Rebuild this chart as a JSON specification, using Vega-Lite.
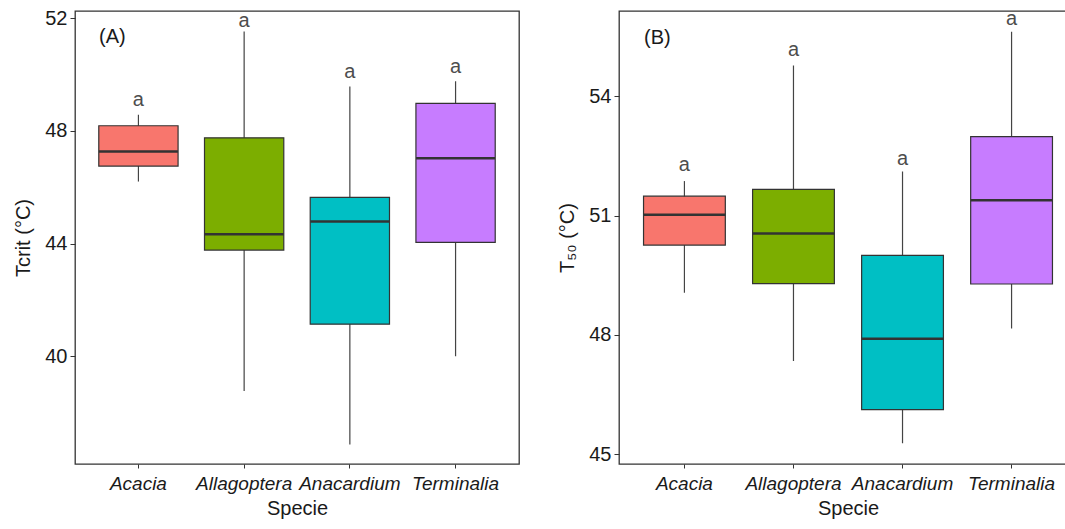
{
  "$schema": "https://vega.github.io/schema/vega-lite/v6.json",
  "padding": {"left": 13, "top": 7, "right": 0, "bottom": 0},
  "background": "white",
  "spacing": 37,
  "config": {
    "font": "Liberation Sans",
    "view": {"stroke": "#333333", "strokeWidth": 1.3},
    "axis": {"grid": false, "domain": false, "tickColor": "#333333", "labelColor": "#1a1a1a", "titleColor": "#1a1a1a", "labelFont": "Liberation Sans", "titleFont": "Liberation Sans", "labelFontSize": 20, "titleFontSize": 20, "titleFontWeight": "normal"},
    "axisX": {"tickSize": 4, "labelPadding": 6, "labelAngle": 0, "labelFontStyle": "italic", "labelFontSize": 19, "titlePadding": 5},
    "axisY": {"tickSize": 5, "labelPadding": 3, "titlePadding": 11}
  },
  "datasets": {
    "A": [
      {"Specie": "Acacia", "lower": 46.2, "q1": 46.75, "median": 47.27, "q3": 48.18, "upper": 48.57, "sig": "a", "sig_y": 48.88},
      {"Specie": "Allagoptera", "lower": 38.77, "q1": 43.77, "median": 44.33, "q3": 47.75, "upper": 51.52, "sig": "a", "sig_y": 51.69},
      {"Specie": "Anacardium", "lower": 36.87, "q1": 41.14, "median": 44.78, "q3": 45.64, "upper": 49.57, "sig": "a", "sig_y": 49.89},
      {"Specie": "Terminalia", "lower": 40.0, "q1": 44.04, "median": 47.03, "q3": 48.97, "upper": 49.76, "sig": "a", "sig_y": 50.04}
    ],
    "B": [
      {"Specie": "Acacia", "lower": 49.06, "q1": 50.26, "median": 51.02, "q3": 51.49, "upper": 51.87, "sig": "a", "sig_y": 52.12},
      {"Specie": "Allagoptera", "lower": 47.34, "q1": 49.29, "median": 50.55, "q3": 51.66, "upper": 54.78, "sig": "a", "sig_y": 55.03},
      {"Specie": "Anacardium", "lower": 45.27, "q1": 46.12, "median": 47.9, "q3": 50.0, "upper": 52.11, "sig": "a", "sig_y": 52.28},
      {"Specie": "Terminalia", "lower": 48.16, "q1": 49.28, "median": 51.39, "q3": 52.99, "upper": 55.63, "sig": "a", "sig_y": 55.79}
    ],
    "panelA": [{"Specie": "Acacia", "y": 51.1, "label": "(A)"}],
    "panelB": [{"Specie": "Acacia", "y": 55.33, "label": "(B)"}]
  },
  "hconcat": [
    {
      "width": 444,
      "height": 453,
      "data": {"name": "A"},
      "encoding": {
        "x": {"field": "Specie", "type": "nominal", "scale": {"paddingInner": 0, "paddingOuter": 0.1}, "axis": {"title": "Specie"}}
      },
      "layer": [
        {
          "mark": {"type": "rule", "color": "#444444", "strokeWidth": 1.2},
          "encoding": {
            "y": {"field": "lower", "type": "quantitative", "scale": {"domain": [36.18, 52.25], "nice": false, "zero": false}, "axis": {"title": "Tcrit (°C)", "values": [40, 44, 48, 52]}},
            "y2": {"field": "upper"}
          }
        },
        {
          "mark": {"type": "bar", "width": {"band": 0.75}, "stroke": "#333333", "strokeWidth": 1.2},
          "encoding": {
            "y": {"field": "q1", "type": "quantitative"},
            "y2": {"field": "q3"},
            "color": {"field": "Specie", "type": "nominal", "scale": {"domain": ["Acacia", "Allagoptera", "Anacardium", "Terminalia"], "range": ["#F8766D", "#7CAE00", "#00BFC4", "#C77CFF"]}, "legend": null}
          }
        },
        {
          "mark": {"type": "tick", "color": "#333333", "thickness": 2.5, "size": 79, "opacity": 1},
          "encoding": {"y": {"field": "median", "type": "quantitative"}}
        },
        {
          "mark": {"type": "text", "baseline": "alphabetic", "fontSize": 20, "color": "#4d4d4d", "font": "Liberation Sans"},
          "encoding": {"y": {"field": "sig_y", "type": "quantitative"}, "text": {"field": "sig"}}
        },
        {
          "data": {"name": "panelA"},
          "mark": {"type": "text", "baseline": "alphabetic", "fontSize": 20, "dx": -26, "color": "#1a1a1a"},
          "encoding": {"y": {"field": "y", "type": "quantitative"}, "text": {"field": "label"}}
        }
      ]
    },
    {
      "width": 458,
      "height": 453,
      "data": {"name": "B"},
      "encoding": {
        "x": {"field": "Specie", "type": "nominal", "scale": {"paddingInner": 0, "paddingOuter": 0.1}, "axis": {"title": "Specie"}}
      },
      "layer": [
        {
          "mark": {"type": "rule", "color": "#444444", "strokeWidth": 1.2},
          "encoding": {
            "y": {"field": "lower", "type": "quantitative", "scale": {"domain": [44.75, 56.15], "nice": false, "zero": false}, "axis": {"title": "T₅₀ (°C)", "values": [45, 48, 51, 54]}},
            "y2": {"field": "upper"}
          }
        },
        {
          "mark": {"type": "bar", "width": {"band": 0.75}, "stroke": "#333333", "strokeWidth": 1.2},
          "encoding": {
            "y": {"field": "q1", "type": "quantitative"},
            "y2": {"field": "q3"},
            "color": {"field": "Specie", "type": "nominal", "scale": {"domain": ["Acacia", "Allagoptera", "Anacardium", "Terminalia"], "range": ["#F8766D", "#7CAE00", "#00BFC4", "#C77CFF"]}, "legend": null}
          }
        },
        {
          "mark": {"type": "tick", "color": "#333333", "thickness": 2.5, "size": 82, "opacity": 1},
          "encoding": {"y": {"field": "median", "type": "quantitative"}}
        },
        {
          "mark": {"type": "text", "baseline": "alphabetic", "fontSize": 20, "color": "#4d4d4d", "font": "Liberation Sans"},
          "encoding": {"y": {"field": "sig_y", "type": "quantitative"}, "text": {"field": "sig"}}
        },
        {
          "data": {"name": "panelB"},
          "mark": {"type": "text", "baseline": "alphabetic", "fontSize": 20, "dx": -27, "color": "#1a1a1a"},
          "encoding": {"y": {"field": "y", "type": "quantitative"}, "text": {"field": "label"}}
        }
      ]
    }
  ]
}
